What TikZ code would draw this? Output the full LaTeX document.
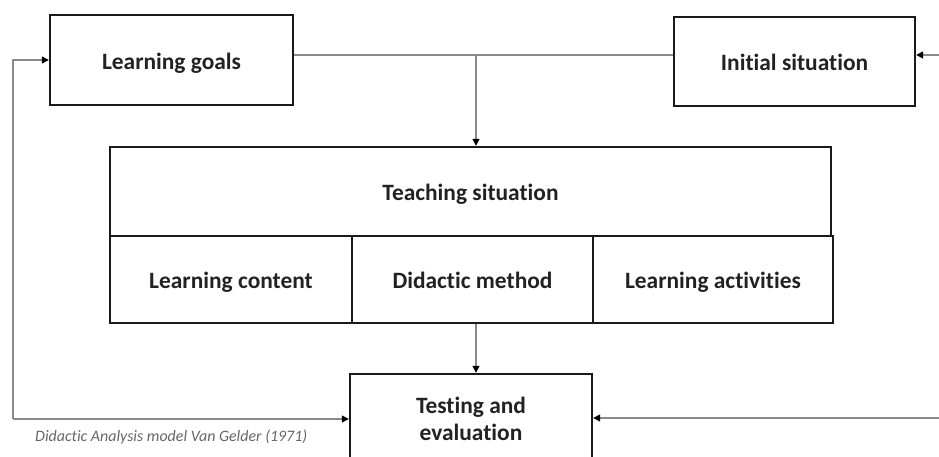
\documentclass[tikz,border=0pt]{standalone}
\usepackage{fontspec}
\setmainfont{Carlito}[Ligatures=NoCommon]
\usetikzlibrary{arrows.meta}
\definecolor{boxline}{HTML}{1A1A1A}
\definecolor{conn}{HTML}{8A8A8A}
\definecolor{txt}{HTML}{222222}
\tikzset{
  box/.style={draw=boxline, line width=2.4bp, inner sep=0pt, text=txt,
    font=\fontsize{23.5}{27}\selectfont\bfseries, align=center},
  oneline/.style={text height=21bp, text depth=2bp},
  conn/.style={draw=conn, line width=1.3bp},
  tip/.style={-{Triangle[length=7bp,width=7bp,color=black]}},
}
\begin{document}
\begin{tikzpicture}[x=1bp,y=-1bp]
\useasboundingbox (0,0) rectangle (939,457);
\node[box, oneline, minimum width=243bp, minimum height=90bp] (goals) at (171.5,60) {Learning goals};
\node[box, oneline, minimum width=241bp, minimum height=89bp] (init) at (794.5,61.5) {Initial situation};
\node[box, oneline, minimum width=721bp, minimum height=89bp] (teach) at (470.5,191.5) {Teaching situation};
\node[box, oneline, minimum width=242bp, minimum height=87bp] (content) at (231,279.5) {Learning content};
\node[box, oneline, minimum width=241bp, minimum height=87bp] (method) at (472.5,279.5) {Didactic method};
\node[box, oneline, minimum width=240bp, minimum height=87bp] (activ) at (713,279.5) {Learning activities};
\node[box, minimum width=242bp, minimum height=90bp] (test) at (471,419) {Testing and\\evaluation};
\coordinate (split) at (476,55);
\coordinate (cl) at (13,419);
\coordinate (rtop) at (939,55);
\coordinate (rbot) at (939,418);
\draw[conn] (goals.east |- split) -- (split) -- (init.west |- split);
\draw[conn, tip] (split) -- (split |- teach.north);
\draw[conn, tip] (split |- method.south) -- (split |- test.north);
\draw[conn, tip] (cl) |- (goals.west);
\draw[conn, tip] (cl) -- (test.west);
\draw[conn, tip] (rtop) -- (init.east |- rtop);
\draw[conn, tip] (rbot) -- (test.east |- rbot);
\node[anchor=west, inner sep=0pt, text=gray!80!black, font=\fontsize{16}{19}\selectfont\itshape] (cap) at (35,437) {Didactic Analysis model Van Gelder (1971)};
\end{tikzpicture}
\end{document}
